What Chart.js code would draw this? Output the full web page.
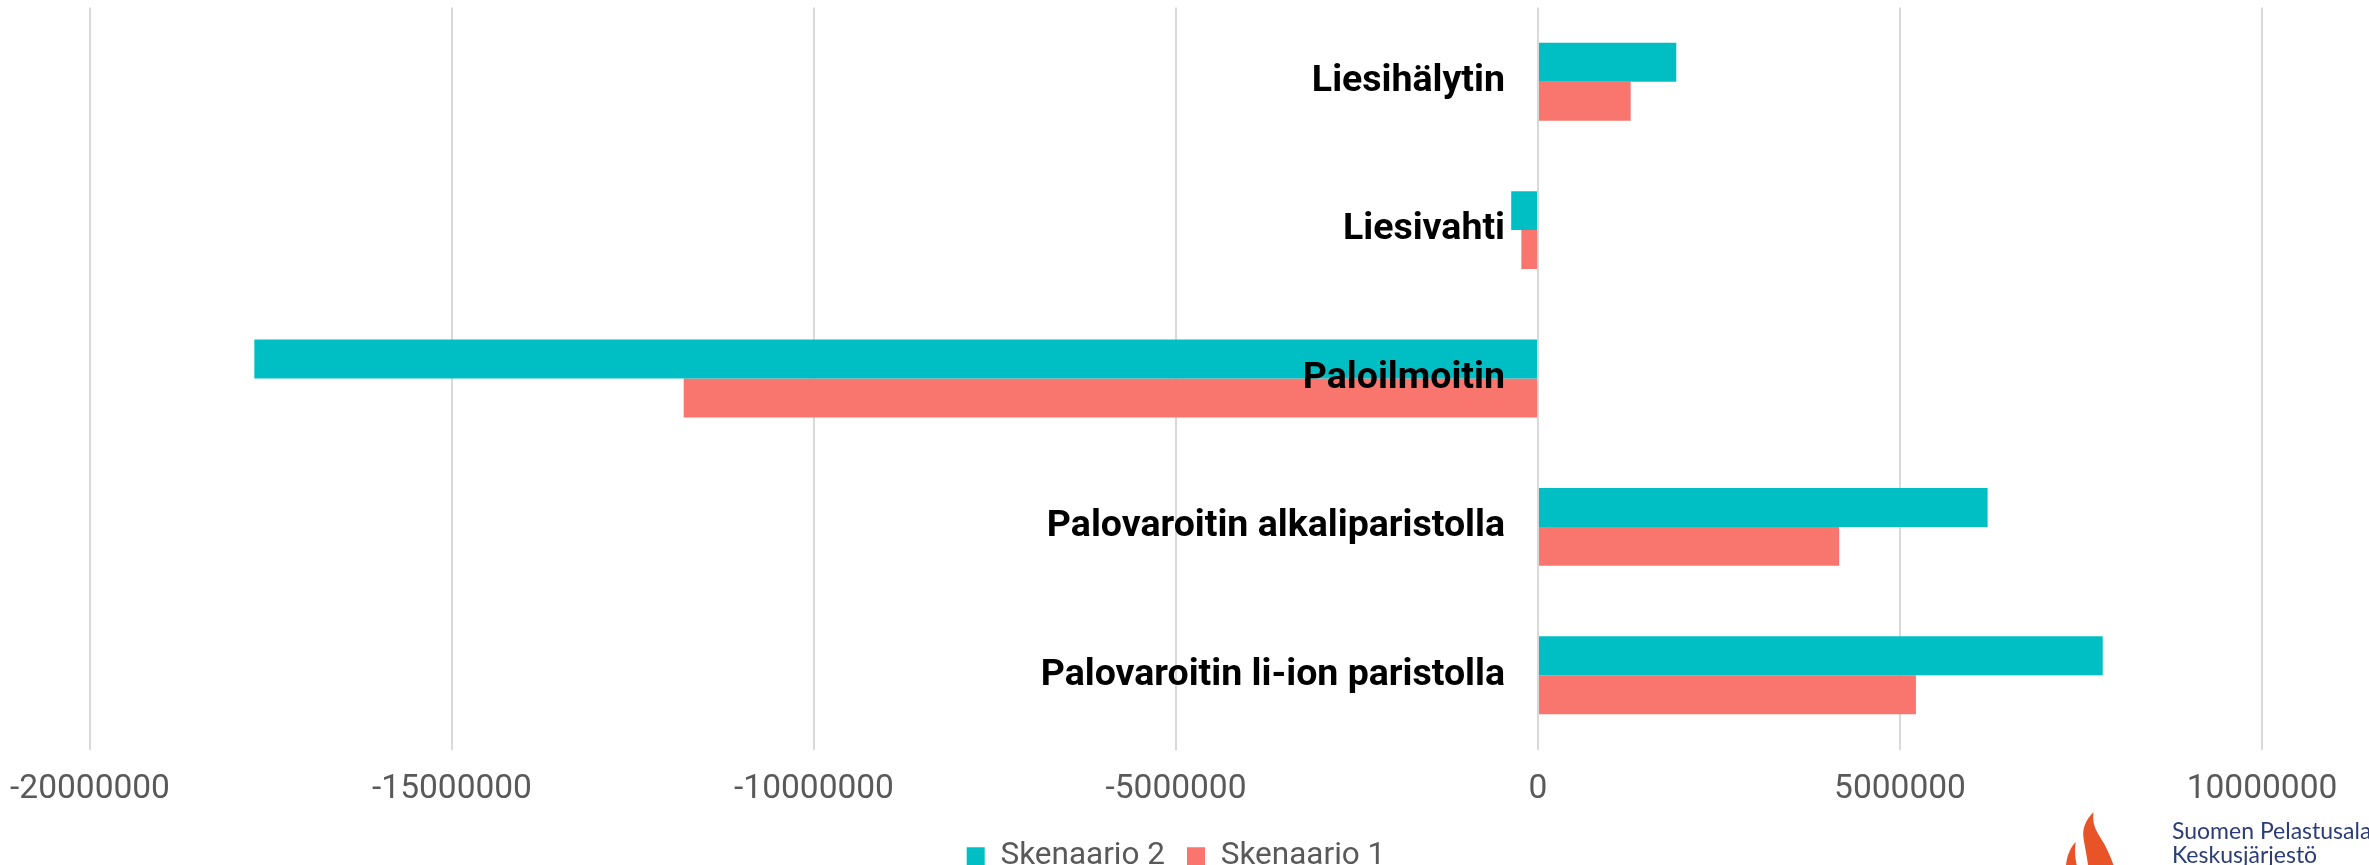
<!DOCTYPE html>
<html>
<head>
<meta charset="utf-8">
<script src="https://cdn.jsdelivr.net/npm/chart.js@4.4.1/dist/chart.umd.min.js"></script>
<style>
  html, body { margin: 0; padding: 0; background: #fff; overflow: hidden; }
  .wrap { position: relative; width: 2369px; height: 885px; }
  .logo { position: absolute; left: 2040px; top: 800px; width: 100px; height: 65px; }
  .logo-text {
    position: absolute; left: 2172px; top: 818px; white-space: nowrap;
    font-family: Lato, 'Noto Sans', sans-serif; font-size: 23px; line-height: 24px; color: #2b3c78;
  }
</style>
</head>
<body>
<div class="wrap">
  <canvas id="chart"></canvas>
  <svg class="logo" viewBox="0 0 100 65">
    <path d="M53.5 12 C46 20 42 28 43.5 38 C45 48 47 56 48 65 L73.5 65 C70 55 66 46 60 37 C56 30 52 24 53.5 12 Z" fill="#e85427"/>
    <path d="M35.7 42 C30 48 27 56 26 65 L36.7 65 C35 58 34.5 50 35.7 42 Z" fill="#e85427"/>
  </svg>
  <div class="logo-text">Suomen Pelastusalan<br>Keskusjärjestö</div>
</div>
<script>
// data
const categories = ['Liesihälytin', 'Liesivahti', 'Paloilmoitin', 'Palovaroitin alkaliparistolla', 'Palovaroitin li-ion paristolla'];
const skenaario2 = [1910000, -370000, -17730000, 6210000, 7800000];
const skenaario1 = [1280000, -230000, -11800000, 4160000, 5220000];
const xTicks = [-20000000, -15000000, -10000000, -5000000, 0, 5000000, 10000000];

// category names sit just left of the zero line, on top of the bars
const categoryLabels = {
  id: 'categoryLabels',
  afterDatasetsDraw(chart) {
    const { ctx, scales: { x, y } } = chart;
    const right = x.getPixelForValue(0) - 33;
    ctx.save();
    ctx.font = 'bold 37.5px Roboto';
    ctx.fillStyle = '#000';
    ctx.textAlign = 'right';
    ctx.textBaseline = 'middle';
    categories.forEach((c, i) => ctx.fillText(c, right, y.getPixelForValue(i)));
    ctx.restore();
  }
};

Chart.defaults.font.family = 'Roboto';

new Chart(document.getElementById('chart'), {
  type: 'bar',
  data: {
    labels: categories,
    datasets: [
      { label: 'Skenaario 2', data: skenaario2, backgroundColor: '#00bfc4' },
      { label: 'Skenaario 1', data: skenaario1, backgroundColor: '#f8766d' }
    ]
  },
  options: {
    indexAxis: 'y',
    responsive: true,
    maintainAspectRatio: false,
    animation: false,
    categoryPercentage: 0.525,
    barPercentage: 1,
    layout: { padding: { top: 7.5, left: 90, right: 107, bottom: 3 } },
    scales: {
      x: {
        min: -20000000,
        max: 10000000,
        afterBuildTicks: (scale) => { scale.ticks = xTicks.map(v => ({ value: v })); },
        afterFit: (scale) => {
          scale.height = 69;
          scale.paddingLeft = 0;
          scale.paddingRight = 0;
        },
        border: { display: false },
        grid: { color: '#d9d9d9', lineWidth: 2, drawTicks: false },
        ticks: {
          color: '#595959',
          font: { size: 33.5 },
          padding: 20,
          maxRotation: 0,
          callback: (v) => String(v)
        }
      },
      y: { display: false }
    },
    plugins: {
      legend: {
        position: 'bottom',
        labels: {
          color: '#595959',
          font: { size: 31.5 },
          boxWidth: 18,
          boxHeight: 18,
          padding: 22
        }
      },
      tooltip: { enabled: false }
    }
  },
  plugins: [categoryLabels]
});
</script>
</body>
</html>
